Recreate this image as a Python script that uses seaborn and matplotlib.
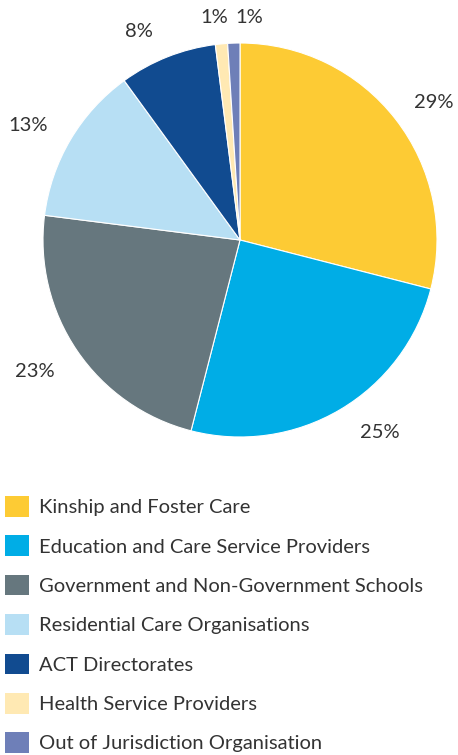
import matplotlib
matplotlib.use("Agg")
import matplotlib.pyplot as plt
import matplotlib.patches as mpatches
from matplotlib import font_manager as fm
import seaborn as sns

sns.set_theme(style="white")
plt.rcParams['font.family'] = ['Lato', 'DejaVu Sans']

categories = [
    "Kinship and Foster Care",
    "Education and Care Service Providers",
    "Government and Non-Government Schools",
    "Residential Care Organisations",
    "ACT Directorates",
    "Health Service Providers",
    "Out of Jurisdiction Organisation",
]
values = [29, 25, 23, 13, 8, 1, 1]
colors = ["#FDCB34", "#00ADE6", "#66777E", "#B7DFF4", "#114B90", "#FFE9B3", "#6E7FB8"]
labels = [f"{v}%" for v in values]
# label anchor positions (in pie-radius units)
label_pos = [(0.985, 0.700), (0.711, -0.975), (-1.041, -0.670), (-1.076, 0.579),
             (-0.513, 1.056), (-0.132, 1.127), (0.046, 1.127)]

FS = 14.5
# pick the upright regular Lato face explicitly
lato_path = None
for f in fm.findSystemFonts():
    name = f.split("/")[-1].lower()
    if name in ("lato-regular.ttf", "lato-regular.otf"):
        lato_path = f
        break
if lato_path:
    prop = fm.FontProperties(fname=lato_path, size=FS)
else:
    prop = fm.FontProperties(family=["Lato", "DejaVu Sans"], style="normal", weight="normal", size=FS)

W, H = 458, 755
fig = plt.figure(figsize=(W / 100, H / 100), dpi=100)
fig.patch.set_facecolor("white")

cx, cy, r = 240, 240, 197
ax = fig.add_axes([(cx - r) / W, 1 - (cy + r) / H, 2 * r / W, 2 * r / H])
wedges, texts = ax.pie(
    values, colors=colors, labels=labels, startangle=90, counterclock=False,
    labeldistance=1.2, wedgeprops=dict(edgecolor="white", linewidth=0.8),
    textprops=dict(color="#333333"),
)
for t, p in zip(texts, label_pos):
    t.set_position(p)
    t.set_ha("center")
    t.set_va("center")
    t.set_fontproperties(prop)
ax.set_xlim(-1, 1)
ax.set_ylim(-1, 1)
ax.set_aspect("equal")
ax.axis("off")

handles = [mpatches.Patch(facecolor=c, edgecolor="none") for c in colors]
leg = fig.legend(
    handles, categories, loc="upper left", bbox_to_anchor=(3 / W, 1 - 494 / H),
    frameon=False, prop=prop, handlelength=1.2, handleheight=1.2,
    handletextpad=0.5, labelspacing=0.93, borderaxespad=0, borderpad=0.1,
)
for t in leg.get_texts():
    t.set_color("#333333")

fig.savefig("out.png", dpi=100, facecolor="white")
